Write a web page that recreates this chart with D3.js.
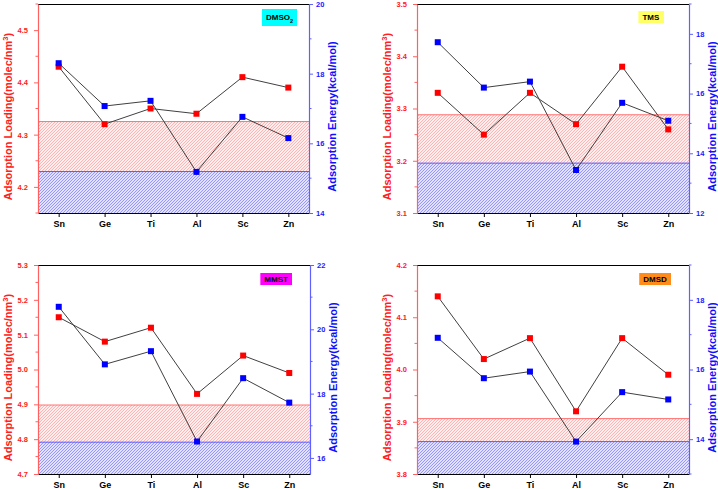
<!DOCTYPE html>
<html><head><meta charset="utf-8">
<script src="https://cdn.jsdelivr.net/npm/d3@7"></script>
<style>body{margin:0;background:#fff}svg{display:block}</style>
</head><body>
<script>
const categories = ["Sn","Ge","Ti","Al","Sc","Zn"];
const panelNames = ["DMSO2","TMS","MMST","DMSD"];
const loadingDMSO2 = [4.43,4.32,4.35,4.34,4.41,4.39];
const energyDMSO2  = [18.30,17.07,17.22,15.18,16.76,16.15];
const loadingTMS   = [3.33,3.25,3.33,3.27,3.38,3.26];
const energyTMS    = [17.72,16.20,16.40,13.44,15.69,15.09];
const loadingMMST  = [5.15,5.08,5.12,4.93,5.04,4.99];
const energyMMST   = [20.70,18.91,19.32,16.51,18.48,17.72];
const loadingDMSD  = [4.14,4.02,4.06,3.92,4.06,3.99];
const energyDMSD   = [16.91,15.75,15.94,13.93,15.35,15.14];
const loadingDomains = [[4.15,4.55],[3.1,3.5],[4.7,5.3],[3.8,4.2]];
const energyDomains  = [[14,20],[12,19],[15.5,22],[13,19]];
const loadingTicks = [[4.2,4.3,4.4,4.5],[3.1,3.2,3.3,3.4,3.5],[4.7,4.8,4.9,5.0,5.1,5.2,5.3],[3.8,3.9,4.0,4.1,4.2]];
const energyTicks  = [[14,16,18,20],[12,14,16,18],[16,18,20,22],[14,16,18]];
const loadingBand  = [4.325,3.288,4.898,3.906];
const energyBand   = [15.19,13.67,16.49,13.93];
const tagColors = ["#00ffff","#ffff66","#ff00ff","#ff8c1a"];

const loadings = [loadingDMSO2, loadingTMS, loadingMMST, loadingDMSD];
const energies = [energyDMSO2, energyTMS, energyMMST, energyDMSD];

const W = 718, H = 489;
const svg = d3.select("body").append("svg").attr("width", W).attr("height", H);
const defs = svg.append("defs");
function hatch(id, bg, fg){
  const p = defs.append("pattern").attr("id", id).attr("patternUnits","userSpaceOnUse")
    .attr("width", 3).attr("height", 3);
  p.append("rect").attr("width",3).attr("height",3).attr("fill",bg);
  p.append("path").attr("d","M-1,1 l2,-2 M0,3 l3,-3 M2,4 l2,-2").attr("stroke",fg).attr("stroke-width",0.7);
}
hatch("hRed","#ffeeee","#ff9a9a");
hatch("hBlue","#e2e2ff","#7474ff");

const rects = [
  {l:38, r:309, t:4, b:213, tagR:297, tagT:9},
  {l:417, r:689, t:4, b:213, tagR:664, tagT:11},
  {l:38, r:310, t:265, b:474, tagR:292, tagT:273},
  {l:417, r:689, t:265, b:474, tagR:671, tagT:273}
];
const font = "'Liberation Sans', Arial, sans-serif";

rects.forEach((R, i) => {
  const g = svg.append("g");
  const x = d3.scalePoint().domain(categories).range([R.l, R.r]).padding(0.45);
  const yL = d3.scaleLinear().domain(loadingDomains[i]).range([R.b, R.t]);
  const yR = d3.scaleLinear().domain(energyDomains[i]).range([R.b, R.t]);

  // bands
  g.append("rect").attr("x", R.l).attr("width", R.r - R.l)
    .attr("y", yL(loadingBand[i])).attr("height", R.b - yL(loadingBand[i]))
    .attr("fill","url(#hRed)");
  g.append("line").attr("x1",R.l).attr("x2",R.r).attr("y1",yL(loadingBand[i])).attr("y2",yL(loadingBand[i]))
    .attr("stroke","#ff7070").attr("stroke-width",1);
  g.append("rect").attr("x", R.l).attr("width", R.r - R.l)
    .attr("y", yR(energyBand[i])).attr("height", R.b - yR(energyBand[i]))
    .attr("fill","url(#hBlue)");
  g.append("line").attr("x1",R.l).attr("x2",R.r).attr("y1",yR(energyBand[i])).attr("y2",yR(energyBand[i]))
    .attr("stroke","#5a5aff").attr("stroke-width",1);

  // frame top
  g.append("line").attr("x1",R.l).attr("x2",R.r).attr("y1",R.t+0.5).attr("y2",R.t+0.5).attr("stroke","#000").attr("stroke-width",1);

  // bottom axis
  const ax = g.append("g").attr("transform",`translate(0,${R.b})`)
    .call(d3.axisBottom(x).tickSize(4).tickSizeOuter(0).tickPadding(4));
  ax.select(".domain").attr("stroke","#000").attr("stroke-width",1.2);
  ax.selectAll(".tick line").attr("stroke","#000");
  ax.selectAll("text").attr("font-family",font).attr("font-weight","bold").attr("font-size","9px").attr("fill","#000");

  // left axis
  const lt = loadingTicks[i];
  const lStep = lt[1]-lt[0];
  const lMinor = d3.range(Math.ceil((loadingDomains[i][0]-1e-9)/(lStep/2)), Math.floor((loadingDomains[i][1]+1e-9)/(lStep/2))+1)
    .map(k=>+(k*lStep/2).toFixed(4)).filter(v=>!lt.some(t=>Math.abs(t-v)<1e-6));
  const aL = g.append("g").attr("transform",`translate(${R.l},0)`)
    .call(d3.axisLeft(yL).tickValues(lt).tickFormat(d3.format(".1f")).tickSize(4).tickSizeOuter(0).tickPadding(6));
  aL.select(".domain").attr("stroke","#ff6060").attr("stroke-width",1.2);
  aL.selectAll(".tick line").attr("stroke","#ff6060");
  aL.selectAll("text").attr("font-family",font).attr("font-weight","bold").attr("font-size","7.5px").attr("fill","#ff2020");
  aL.selectAll(".minor").data(lMinor).join("line").attr("class","minor")
    .attr("x1",-2.5).attr("x2",0).attr("y1",d=>yL(d)).attr("y2",d=>yL(d)).attr("stroke","#ff6060");

  // right axis
  const rt = energyTicks[i];
  const rStep = rt[1]-rt[0];
  const rMinor = d3.range(Math.ceil(energyDomains[i][0]/(rStep/2)), Math.floor(energyDomains[i][1]/(rStep/2))+1)
    .map(k=>k*rStep/2).filter(v=>!rt.includes(v));
  const aR = g.append("g").attr("transform",`translate(${R.r},0)`)
    .call(d3.axisRight(yR).tickValues(rt).tickFormat(d3.format("d")).tickSize(4).tickSizeOuter(0).tickPadding(3));
  aR.select(".domain").attr("stroke","#6060ff").attr("stroke-width",1.2);
  aR.selectAll(".tick line").attr("stroke","#6060ff");
  aR.selectAll("text").attr("font-family",font).attr("font-weight","bold").attr("font-size","7.5px").attr("fill","#2020ff");
  aR.selectAll(".minor").data(rMinor).join("line").attr("class","minor")
    .attr("x1",0).attr("x2",2.5).attr("y1",d=>yR(d)).attr("y2",d=>yR(d)).attr("stroke","#6060ff");

  // lines
  const lineL = d3.line().x((d,j)=>x(categories[j])).y(d=>yL(d));
  const lineR = d3.line().x((d,j)=>x(categories[j])).y(d=>yR(d));
  g.append("path").attr("d", lineL(loadings[i])).attr("fill","none").attr("stroke","#404040").attr("stroke-width",1);
  g.append("path").attr("d", lineR(energies[i])).attr("fill","none").attr("stroke","#404040").attr("stroke-width",1);
  const s = 6;
  g.selectAll(".mr").data(loadings[i]).join("rect").attr("class","mr")
    .attr("x",(d,j)=>x(categories[j])-s/2).attr("y",d=>yL(d)-s/2).attr("width",s).attr("height",s).attr("fill","#ff0000");
  g.selectAll(".mb").data(energies[i]).join("rect").attr("class","mb")
    .attr("x",(d,j)=>x(categories[j])-s/2).attr("y",d=>yR(d)-s/2).attr("width",s).attr("height",s).attr("fill","#0000ff");

  // axis titles
  const cy = (R.t + R.b)/2 + 8;
  const tl = g.append("text").attr("transform",`translate(${R.l-26},${cy}) rotate(-90)`)
    .attr("text-anchor","middle").attr("font-family",font).attr("font-weight","bold").attr("font-size","11px").attr("fill","#ff2020");
  tl.append("tspan").text("Adsorption Loading(molec/nm");
  tl.append("tspan").attr("dy",-4).attr("font-size","7.5px").text("3");
  tl.append("tspan").attr("dy",4).text(")");
  g.append("text").attr("transform",`translate(${R.r+27},${cy}) rotate(-90)`)
    .attr("text-anchor","middle").attr("font-family",font).attr("font-weight","bold").attr("font-size","11px").attr("fill","#1010ff")
    .text("Adsorption Energy(kcal/mol)");

  // tag
  const name = panelNames[i];
  const tg = g.append("g");
  const tt = tg.append("text").attr("font-family",font).attr("font-weight","bold").attr("font-size","8px").attr("fill","#000");
  const hasSub = /\d$/.test(name);
  if (hasSub) {
    tt.append("tspan").text(name.slice(0,-1));
    tt.append("tspan").attr("dy",2.5).attr("font-size","5.5px").text(name.slice(-1));
  } else tt.text(name);
  const bb = tt.node().getBBox();
  const padX = 4, boxH = hasSub ? 17 : 12;
  const boxW = bb.width + padX*2;
  const bx = R.tagR - boxW, by = R.tagT;
  tt.attr("x", bx + padX).attr("y", by + (hasSub ? 11 : 9));
  tg.insert("rect","text").attr("x",bx).attr("y",by).attr("width",boxW).attr("height",boxH).attr("fill",tagColors[i]);
});
</script>
</body></html>
